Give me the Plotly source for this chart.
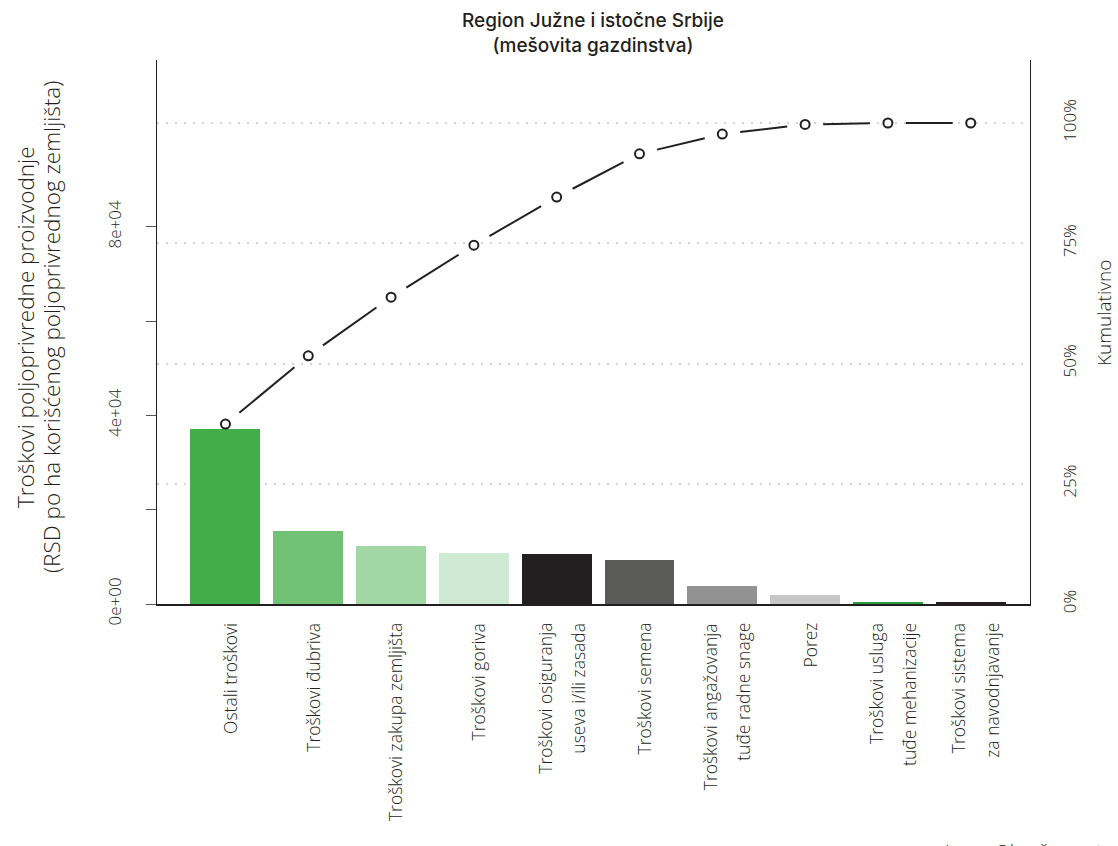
import math
import plotly.graph_objects as go

# ---------------- data ----------------
categories = [
    "Ostali troškovi",
    "Troškovi đubriva",
    "Troškovi zakupa zemljišta",
    "Troškovi goriva",
    "Troškovi osiguranja\nuseva i/ili zasada",
    "Troškovi semena",
    "Troškovi angažovanja\ntuđe radne snage",
    "Porez",
    "Troškovi usluga\ntuđe mehanizacije",
    "Troškovi sistema\nza navodnjavanje",
]
costs = [37135, 15490, 12310, 10760, 10610, 9340, 3820, 1910, 300, 250]
cumulative_pct = [37.4, 51.6, 63.8, 74.6, 84.6, 93.6, 97.7, 99.7, 100.0, 100.0]
bar_colors = ["#41ae4a", "#72c276", "#a3d6a5", "#cfead3", "#231f20",
              "#5a5a58", "#929292", "#c6c6c6", "#2a9b3b", "#231f20"]
left_tickvals = [0, 20000, 40000, 60000, 80000]
left_ticktext = ["0e+00", "", "4e+04", "", "8e+04"]
right_tickvals = [0, 25, 50, 75, 100]
right_ticktext = ["0%", "25%", "50%", "75%", "100%"]

title_text = "Region Južne i istočne Srbije<br>(mešovita gazdinstva)"
y_title_lines = ["Troškovi poljoprivredne proizvodnje",
                 "(RSD po ha korišćenog poljoprivrednog zemljišta)"]
y2_title = "Kumulativno"
source_text = "Izvor: Obračun autora"

# ---------------- figure ----------------
W, H = 1118, 846
ML, MR, MT, MB = 157, 88, 60, 242
PW, PH = W - ML - MR, H - MT - MB
INK = "#231f20"
FONT = "Open Sans"

x_range = [-0.827, 9.716]
pct_range = [0, 113.1]
val_range = [0, 115430]


def px_x(p):
    return (p - ML) / PW


def px_y(p):
    return (H - MB - p) / PH


idx = list(range(len(categories)))

# line segments of the cumulative curve, stopped short of each point (R type="b")
sx = PW / (x_range[1] - x_range[0])
sy = PH / (pct_range[1] - pct_range[0])
gap = 18.0
seg_x, seg_y = [], []
for i in range(len(idx) - 1):
    dx = (idx[i + 1] - idx[i]) * sx
    dy = (cumulative_pct[i + 1] - cumulative_pct[i]) * sy
    L = math.hypot(dx, dy)
    if L <= 2 * gap:
        continue
    ux, uy = dx / L, dy / L
    seg_x += [idx[i] + ux * gap / sx, idx[i + 1] - ux * gap / sx, None]
    seg_y += [cumulative_pct[i] + uy * gap / sy, cumulative_pct[i + 1] - uy * gap / sy, None]

fig = go.Figure()
fig.add_trace(go.Bar(x=idx, y=costs, marker=dict(color=bar_colors, line=dict(width=0)),
                     width=0.845, xaxis="x", yaxis="y", showlegend=False))
fig.add_trace(go.Scatter(x=seg_x, y=seg_y, mode="lines",
                         line=dict(color=INK, width=2), connectgaps=False,
                         xaxis="x", yaxis="y2", hoverinfo="skip", showlegend=False))
fig.add_trace(go.Scatter(x=idx, y=cumulative_pct, mode="markers",
                         marker=dict(symbol="circle", color="white", size=9,
                                     line=dict(color=INK, width=2)),
                         xaxis="x", yaxis="y2", showlegend=False))

annotations = []
for i, lab in enumerate(categories):
    lines = lab.split("\n")
    n = len(lines)
    for j, ln in enumerate(lines):
        annotations.append(dict(
            x=i, xref="x", y=px_y(621), yref="paper", text=ln, showarrow=False,
            textangle=-90, xanchor="center", yanchor="top",
            xshift=4 + (j - (n - 1) / 2) * 33,
            font=dict(family=FONT, size=17.5, color=INK, weight=300)))

for ln, xp in zip(y_title_lines, [25, 51]):
    annotations.append(dict(
        x=px_x(xp), xref="paper", y=px_y(327), yref="paper",
        text=ln, showarrow=False, textangle=-90, xanchor="center", yanchor="middle",
        font=dict(family=FONT, size=22.5, color=INK, weight=300)))
annotations.append(dict(
    x=px_x(1104), xref="paper", y=px_y(313), yref="paper",
    text=y2_title, showarrow=False, textangle=-90, xanchor="center", yanchor="middle",
    font=dict(family=FONT, size=19, color=INK, weight=300)))
annotations.append(dict(
    x=px_x(943), xref="paper", y=px_y(836), yref="paper",
    text=source_text, showarrow=False, xanchor="left", yanchor="top",
    font=dict(family=FONT, size=19, color=INK, weight=300)))
annotations.append(dict(
    x=px_x(593), xref="paper", y=px_y(7), yref="paper",
    text=title_text, showarrow=False, xanchor="center", yanchor="top",
    font=dict(family="Inter", size=19, color=INK, weight=500)))

fig.update_layout(
    width=W, height=H,
    margin=dict(l=ML, r=MR, t=MT, b=MB, pad=0),
    paper_bgcolor="white", plot_bgcolor="white",
    showlegend=False,
    xaxis=dict(range=x_range, showgrid=False, zeroline=False,
               showline=True, linecolor=INK, linewidth=1.5,
               tickvals=[], ticks="", showticklabels=False, fixedrange=True),
    yaxis=dict(range=val_range, side="left", showgrid=False,
               zeroline=False, showline=True, linecolor=INK, linewidth=1.3,
               tickvals=left_tickvals, ticktext=left_ticktext,
               ticks="outside", ticklen=10, tickcolor="#555555", tickwidth=1.3,
               tickangle=-90, ticklabelstandoff=18,
               tickfont=dict(family=FONT, size=17, color=INK, weight=300)),
    yaxis2=dict(range=pct_range, overlaying="y", side="right", showgrid=True,
                gridcolor="#d4d4d4", gridwidth=2, griddash="2px,7px",
                zeroline=False, showline=True, linecolor=INK, linewidth=1.3,
                tickvals=right_tickvals, ticktext=right_ticktext, ticks="",
                tickangle=-90, ticklabelstandoff=24,
                tickfont=dict(family=FONT, size=17, color=INK, weight=300)),
    annotations=annotations,
    bargap=0,
)

fig.write_html(
    "out.html",
    config={"displayModeBar": False},
    post_script="document.body.style.margin='0';document.body.style.padding='0';"
                "document.body.style.overflow='hidden';",
)
